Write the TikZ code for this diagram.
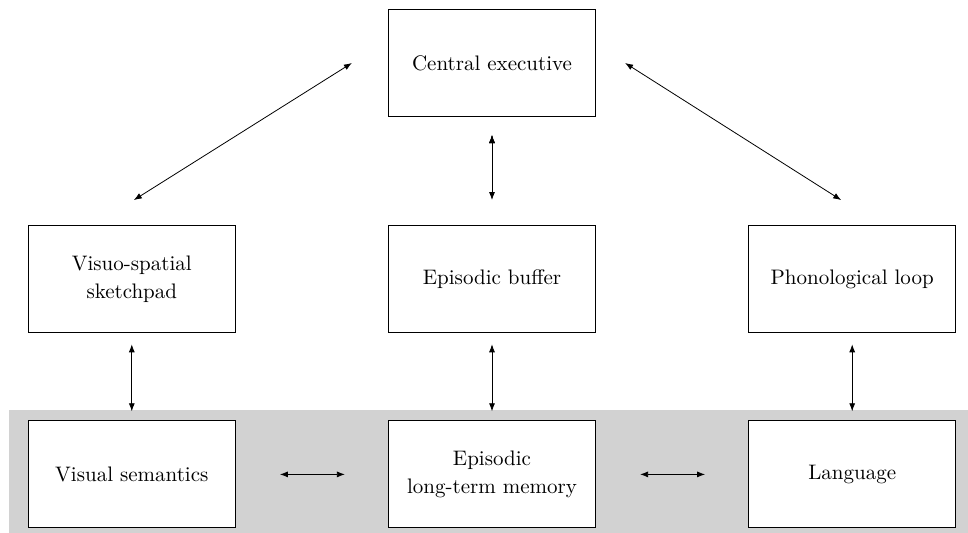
\documentclass[tikz,border=0pt]{standalone}
\usetikzlibrary{arrows.meta, positioning, backgrounds}

\begin{document}
\begin{tikzpicture}[
        box/.style={draw, line width=0.6pt, fill=white, align=center,
            minimum width=103.5pt, minimum height=53.5pt, inner sep=2pt,
            font=\fontsize{10.5}{14}\selectfont},
        link/.style={{Latex[length=4pt,width=3pt]}-{Latex[length=4pt,width=3pt]},
            line width=0.4pt}
    ]
        \useasboundingbox (-246pt,-235pt) rectangle (238pt,31.5pt);

        % Draw the components
        \node[box]                          (ce)   {Central executive};
        \node[box, below=54pt of ce]        (eb)   {Episodic buffer};
        \node[box, left=76pt of eb]         (vs)   {Visuo-spatial\\sketchpad};
        \node[box, right=76pt of eb]        (pl)   {Phonological loop};

        \node[box, below=43.5pt of eb]      (eltm) {Episodic\\long-term memory};
        \node[box, below=43.5pt of vs]      (vsem) {Visual semantics};
        \node[box, below=43.5pt of pl]      (lang) {Language};

        % Long-term memory band
        \begin{scope}[on background layer]
            \fill[gray!35] (-241.5pt,-173.5pt) rectangle (238pt,-235pt);
        \end{scope}

        % Connect the components with arrows
        \draw[link]
            ([xshift=-18pt]ce.west) edge ([xshift=1pt,yshift=12.5pt]vs.north)
            ([xshift=14.5pt]ce.east) edge ([xshift=-5.5pt,yshift=12.5pt]pl.north)
            ([yshift=-9pt]ce.south) edge ([yshift=12.5pt]eb.north);

        \draw[link, shorten <=5.5pt, shorten >=4.5pt]
            (vs) edge (vsem)
            (eb) edge (eltm)
            (pl) edge (lang);

        \draw[link, shorten <=22pt, shorten >=21.5pt]
            (vsem) edge (eltm)
            (eltm) edge (lang);
\end{tikzpicture}
\end{document}
